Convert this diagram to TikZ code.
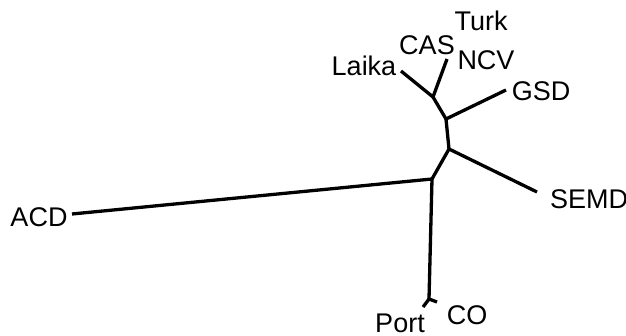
\documentclass[tikz,border=0pt]{standalone}
\usepackage{fontspec}
\setmainfont{Liberation Sans}
\begin{document}
\begin{tikzpicture}[x=1pt,y=-1pt,
  branch/.style={line width=3.3pt,line cap=butt,line join=miter},
  taxon/.style={inner sep=0pt,anchor=center,font=\fontsize{27}{27}\selectfont}]
\useasboundingbox (0,0) rectangle (626,336);
% internal nodes of the tree
\coordinate (hub) at (432,179);
\coordinate (jb)  at (429,299);
\coordinate (jc)  at (449,149);
\coordinate (jd)  at (446,119);
\coordinate (je)  at (433,97);
% branch tips
\coordinate (tACD)  at (72,214);
\coordinate (tPort) at (423,307);
\coordinate (tCO)   at (437,302);
\coordinate (tSEMD) at (537,192);
\coordinate (tGSD)  at (506,90);
\coordinate (tLaika) at (401,71);
\coordinate (tCAS)  at (447,59);
% branches
\draw[branch] (tACD) -- (hub);
\draw[branch] (hub) -- (jb);
\draw[branch] (tPort) -- (jb) -- (tCO);
\draw[branch] (hub) -- (jc) -- (tSEMD);
\draw[branch] (jc) -- (jd) -- (tGSD);
\draw[branch] (jd) -- (je);
\draw[branch] (tLaika) -- (je) -- (tCAS);
% taxon labels
\node[taxon] (lTurk)  at (481,21)  {Turk};
\node[taxon] (lCAS)   at (427,45)  {CAS};
\node[taxon] (lNCV)   at (486,60)  {NCV};
\node[taxon] (lLaika) at (364,66)  {Laika};
\node[taxon] (lGSD)   at (541,91)  {GSD};
\node[taxon] (lSEMD)  at (589,199) {SEMD};
\node[taxon] (lACD)   at (39,217)  {ACD};
\node[taxon] (lPort)  at (400,323) {Port};
\node[taxon] (lCO)    at (467,315) {CO};
\end{tikzpicture}
\end{document}
